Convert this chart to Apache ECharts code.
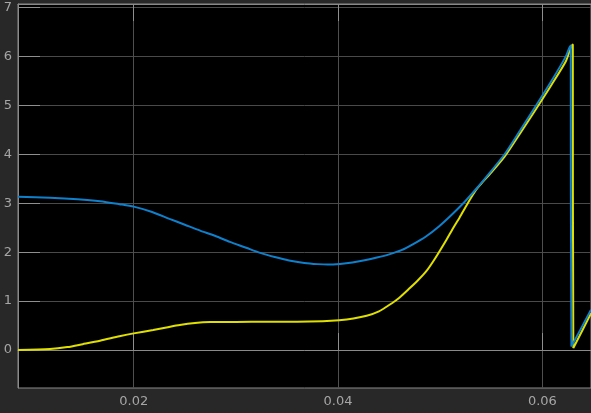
<!DOCTYPE html>
<html>
<head>
<meta charset="utf-8">
<script src="https://cdn.jsdelivr.net/npm/echarts@6/dist/echarts.min.js"></script>
<style>
html,body{margin:0;padding:0;background:#282828;}
#chart{width:591px;height:413px;}
</style>
</head>
<body>
<div id="chart"></div>
<script>
// Time samples and signal values
const blueTime = [0.00867,0.0118,0.0145,0.0167,0.0186,0.0200,0.0218,0.0235,0.0250,0.0265,0.0280,0.0294,0.0310,0.0323,0.0338,0.0352,0.0367,0.0380,0.0390,0.0402,0.0414,0.0426,0.0438,0.0450,0.0462,0.0474,0.0486,0.0499,0.0512,0.0524,0.0536,0.0548,0.0563,0.0578,0.0594,0.0609,0.0623,0.06278,0.06284,0.06284,0.06476];
const blueValue = [3.13,3.11,3.08,3.04,2.98,2.93,2.82,2.68,2.56,2.44,2.33,2.21,2.09,1.99,1.90,1.83,1.78,1.755,1.745,1.76,1.79,1.835,1.89,1.955,2.04,2.17,2.32,2.53,2.78,3.03,3.31,3.61,4.0,4.48,5.0,5.5,6.0,6.22,6.22,0.07,0.825];

const yellowTime = [0.00867,0.0118,0.0135,0.0150,0.0167,0.0186,0.0200,0.0219,0.0232,0.0245,0.0260,0.0275,0.0300,0.0330,0.0360,0.0385,0.0401,0.0415,0.0428,0.0440,0.0450,0.0460,0.0470,0.0478,0.0486,0.0494,0.0506,0.0512,0.0519,0.0527,0.0535,0.0541,0.0548,0.0563,0.0578,0.0594,0.0609,0.0623,0.06298,0.06303,0.06303,0.06476];
const yellowValue = [0.0,0.02,0.06,0.12,0.19,0.28,0.34,0.41,0.46,0.51,0.55,0.57,0.575,0.58,0.58,0.59,0.61,0.645,0.70,0.79,0.92,1.07,1.26,1.42,1.60,1.84,2.25,2.47,2.71,3.0,3.27,3.42,3.58,3.95,4.42,4.93,5.42,5.90,6.24,6.24,0.04,0.75];

const xTicks = [0.02, 0.04, 0.06];
const yTicks = [0, 1, 2, 3, 4, 5, 6, 7];
const xMin = 0.00867, xMax = 0.06476;
const yMin = -0.776, yMax = 7.07;

function pairs(t, v) { return t.map((x, i) => [x, v[i]]); }

const chart = echarts.init(document.getElementById('chart'), null, {renderer: 'canvas'});
const labelFont = {color: '#a6a6a6', fontSize: 13, fontFamily: 'DejaVu Sans'};
chart.setOption({
  animation: false,
  backgroundColor: '#282828',
  grid: {left: 18, right: -1, top: 4, bottom: 25, show: true, backgroundColor: '#000000', borderColor: '#8a8a8a', borderWidth: 1},
  xAxis: [{
    type: 'value', min: xMin, max: xMax, position: 'bottom',
    axisLine: {show: true, lineStyle: {color: '#8a8a8a', width: 1}},
    axisTick: {show: true, inside: true, length: 17, customValues: xTicks, lineStyle: {color: '#8f8f8f'}},
    axisLabel: Object.assign({margin: 7, customValues: xTicks, formatter: v => v.toFixed(2)}, labelFont),
    splitLine: {show: true, lineStyle: {color: '#4f4f4f', width: 1}}
  }, {
    type: 'value', min: xMin, max: xMax, position: 'top',
    axisLine: {show: true, lineStyle: {color: '#8a8a8a', width: 1}},
    axisTick: {show: true, inside: true, length: 17, customValues: xTicks, lineStyle: {color: '#8f8f8f'}},
    axisLabel: {show: false},
    splitLine: {show: false}
  }],
  yAxis: {
    type: 'value', min: yMin, max: yMax,
    axisLine: {show: true, lineStyle: {color: '#8a8a8a', width: 1}},
    axisTick: {show: true, inside: true, length: 22, customValues: yTicks, lineStyle: {color: '#8f8f8f'}},
    axisLabel: Object.assign({margin: 6, customValues: yTicks}, labelFont),
    splitLine: {show: true, lineStyle: {color: '#4a4a4a', width: 1}}
  },
  series: [{
    type: 'line', data: pairs(yellowTime, yellowValue), showSymbol: false,
    smooth: 0.25,
    lineStyle: {color: '#e0e000', width: 2}, z: 2
  }, {
    type: 'line', data: pairs(blueTime, blueValue), showSymbol: false,
    smooth: 0.25,
    lineStyle: {color: '#0f80cc', width: 2}, z: 3
  }]
});
</script>
</body>
</html>
